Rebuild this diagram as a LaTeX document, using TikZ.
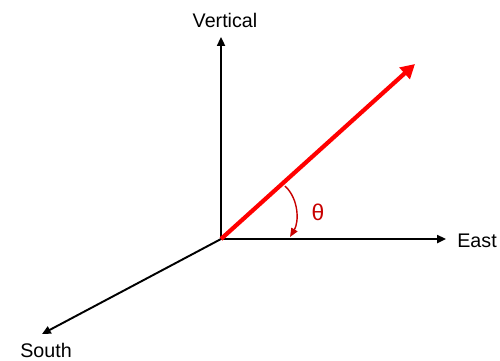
\documentclass[tikz,border=0pt]{standalone}
\usepackage{fontspec}
\setmainfont{Liberation Sans}
\usetikzlibrary{arrows.meta}
\definecolor{vred}{RGB}{255,0,0}
\definecolor{dred}{RGB}{200,0,0}
\begin{document}
\begin{tikzpicture}[x=0.02cm,y=-0.02cm,
  axis/.style={line width=1.1pt,-{Triangle[length=5pt,width=4.5pt]}},
  lbl/.style={font=\fontsize{11.2pt}{13pt}\selectfont,inner sep=0pt},
  vec/.style={vred,line width=2.4pt,-{Triangle[length=8pt,width=8.5pt]}}]
\useasboundingbox (0,0) rectangle (500,360);
\coordinate (O) at (221,239);
\coordinate (V) at (221,37);
\coordinate (E) at (446,239);
\coordinate (S) at (42,334);
\coordinate (R) at (415,64);
\coordinate (a1) at (285,186);
\coordinate (a2) at (290,237);
\node[lbl] (tv) at (225,20) {Vertical};
\node[lbl,anchor=west] (te) at (457,241) {East};
\node[lbl] (ts) at (46,350) {South};
\node[lbl,text=dred,font=\fontsize{13pt}{15pt}\selectfont] (th) at (318,212) {θ};
\draw[axis] (O) -- (V);
\draw[axis] (O) -- (E);
\draw[axis] (O) -- (S);
\draw[vec] (O) -- (R);
\draw[dred,line width=0.8pt,-{Triangle[length=5pt,width=4pt]}] (a1) .. controls (299,199) and (299,222) .. (a2);
\end{tikzpicture}
\end{document}
